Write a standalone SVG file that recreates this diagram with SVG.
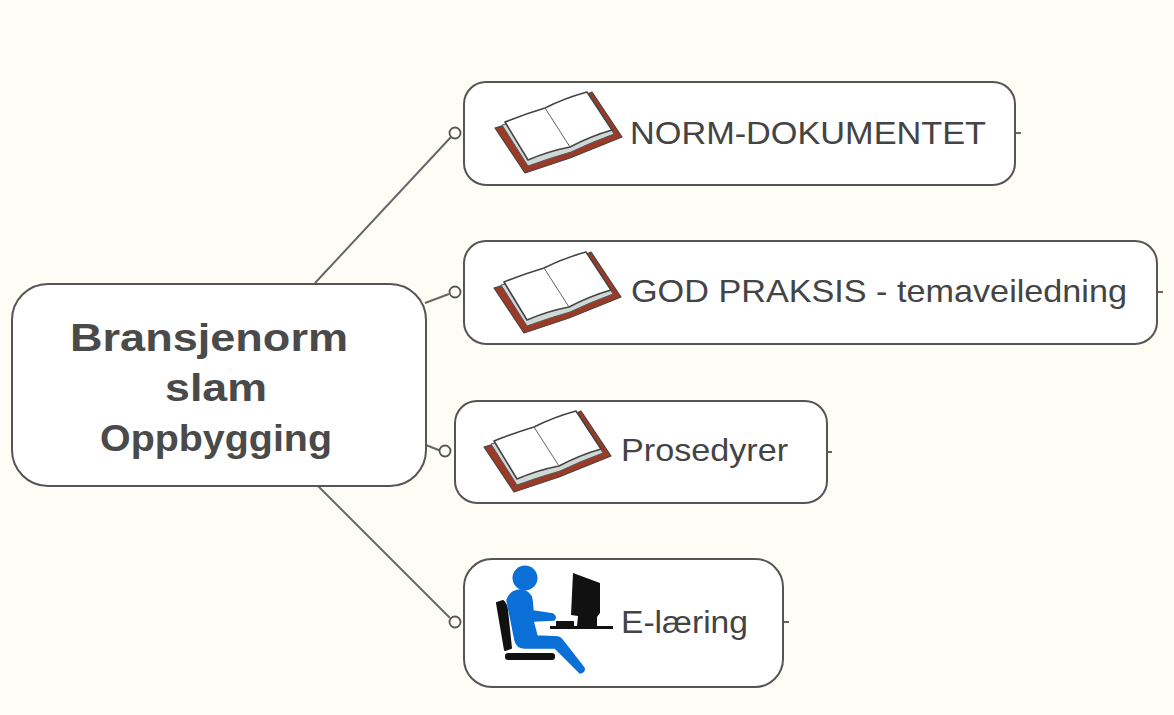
<svg xmlns="http://www.w3.org/2000/svg" width="1174" height="715" viewBox="0 0 1174 715">
<style>
.n{fill:#fff;stroke:#555;stroke-width:2}
.c{fill:none;stroke:#666;stroke-width:2}
.o{fill:#fdfdf6;stroke:#555;stroke-width:1.8}
.t{font-family:"Liberation Sans",Arial,sans-serif;font-size:32px;fill:#444}
.b{font-family:"Liberation Sans",Arial,sans-serif;font-weight:bold;fill:#4a4a4a}
.cv{fill:#9c3a25;stroke:#444;stroke-width:1.2;stroke-linejoin:round}
.pg{fill:#fff;stroke:#444;stroke-width:1.6;stroke-linejoin:round}
.ed{fill:#cfd8d2;stroke:#556;stroke-width:1;stroke-linejoin:round}
.sp{fill:none;stroke:#666;stroke-width:1}
</style>
<defs>
<g id="book">
<path class="cv" d="M0 38 L30 83 L75 68 L127 47 L97 2 L60 20 Z"/>
<path class="ed" d="M7 35 L33 76 Q55 68 76 62 Q97 52 119 44 L96 8 L50 24 Z"/>
<path class="pg" d="M10 32 Q30 24 50 18 Q70 8 92 2 L117 40 Q96 46 75 57 Q54 61 33 70 Z"/>
<path class="sp" d="M50 18 L75 57"/>
</g>
</defs>
<rect width="1174" height="715" fill="#fdfdf6"/>
<g id="connectors">
<path class="c" d="M315 283 L451 137"/>
<path class="c" d="M425 303 L449 294"/>
<path class="c" d="M426 445 L441 451"/>
<path class="c" d="M318 486 L450 618"/>
<path class="c" d="M1015 133 H1021"/>
<path class="c" d="M1157 292 H1163"/>
<path class="c" d="M826 452 H832"/>
<path class="c" d="M783 622 H789"/>
<circle class="o" cx="455" cy="133" r="5.5"/>
<circle class="o" cx="455" cy="292" r="5.5"/>
<circle class="o" cx="445" cy="451" r="5.5"/>
<circle class="o" cx="455" cy="622" r="5.5"/>
</g>
<g id="root">
<rect class="n" x="12" y="284" width="414" height="202" rx="36"/>
<text class="b" x="70" y="351" font-size="39" textLength="278" lengthAdjust="spacingAndGlyphs">Bransjenorm</text>
<text class="b" x="165" y="401" font-size="39" textLength="102" lengthAdjust="spacingAndGlyphs">slam</text>
<text class="b" x="100" y="451" font-size="37" textLength="232" lengthAdjust="spacingAndGlyphs">Oppbygging</text>
</g>
<g id="node-norm">
<rect class="n" x="464" y="82" width="551" height="103" rx="22"/>
<use href="#book" x="495" y="90"/>
<text class="t" x="630" y="144" textLength="356" lengthAdjust="spacingAndGlyphs">NORM-DOKUMENTET</text>
</g>
<g id="node-praksis">
<rect class="n" x="464" y="241" width="693" height="103" rx="22"/>
<use href="#book" x="494" y="250"/>
<text class="t" x="631" y="302" textLength="496" lengthAdjust="spacingAndGlyphs">GOD PRAKSIS - temaveiledning</text>
</g>
<g id="node-prosedyrer">
<rect class="n" x="455" y="401" width="372" height="102" rx="22"/>
<use href="#book" x="484" y="409"/>
<text class="t" x="621" y="461" textLength="167" lengthAdjust="spacingAndGlyphs">Prosedyrer</text>
</g>
<g id="node-elaering">
<rect class="n" x="464" y="559" width="319" height="128" rx="28"/>
<circle cx="525" cy="578" r="12.5" fill="#0a6fd6"/>
<path d="M507 600 Q510 591 520 590 Q531 591 532 600 L533 611 L553 614 Q557 617 554 620 L533 621 L537 636 L558 637 Q561 638 563 641 L584 668 Q585 672 580 673 L555 648 L525 648 Q517 648 515 640 Z" fill="#0a6fd6" stroke="#0a6fd6" stroke-width="1.5" stroke-linejoin="round"/>
<path d="M497 603 L503 601 Q506 603 507 610 L511 648 L505 650 Z" fill="#111" stroke="#111" stroke-width="2" stroke-linejoin="round"/>
<rect x="505" y="653" width="50" height="7" rx="3" fill="#111"/>
<path d="M573 573 L600 583 L600 613 L597 617 L597 626 L577 626 L578 616 L571 615 Z" fill="#111"/>
<rect x="550" y="626" width="63" height="3" fill="#111"/>
<rect x="556" y="621" width="18" height="6" fill="#111"/>
<text class="t" x="621" y="633" textLength="127" lengthAdjust="spacingAndGlyphs">E-læring</text>
</g>
</svg>
